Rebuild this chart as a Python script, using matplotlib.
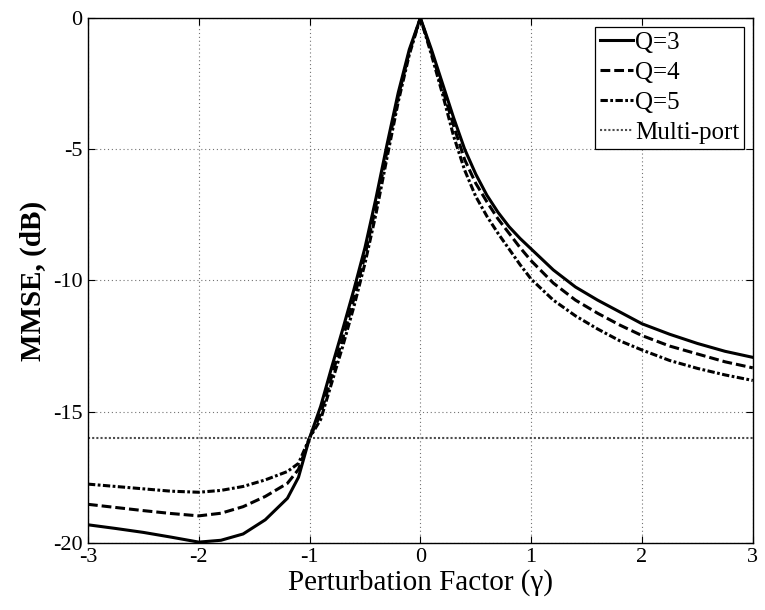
import matplotlib
matplotlib.use("Agg")
import matplotlib.pyplot as plt

plt.rcParams['font.family'] = ['Liberation Serif', 'DejaVu Serif']
plt.rcParams['axes.unicode_minus'] = False

x = [-3, -2.75, -2.5, -2.25, -2, -1.8, -1.6, -1.4, -1.2, -1.1, -1, -0.9, -0.8, -0.7, -0.6, -0.5,
     -0.4, -0.3, -0.2, -0.1, 0, 0.1, 0.2, 0.3, 0.4, 0.5, 0.6, 0.7, 0.8, 0.9, 1.0, 1.2, 1.4, 1.6,
     1.8, 2.0, 2.25, 2.5, 2.75, 3]

q3 = [-19.31, -19.45, -19.6, -19.78, -19.97, -19.9, -19.66, -19.12, -18.3, -17.5, -16.0, -14.8,
      -13.3, -11.85, -10.35, -8.75, -6.85, -4.8, -2.85, -1.2, 0, -1.2, -2.5, -3.8, -5.0, -5.95,
      -6.75, -7.4, -7.95, -8.4, -8.8, -9.6, -10.25, -10.75, -11.2, -11.65, -12.05, -12.4, -12.7,
      -12.93]

q4 = [-18.53, -18.65, -18.77, -18.88, -18.97, -18.87, -18.62, -18.23, -17.73, -17.2, -16.0, -15.1,
      -13.65, -12.2, -10.7, -9.05, -7.15, -5.05, -3.0, -1.3, 0, -1.3, -2.7, -4.1, -5.4, -6.3,
      -7.0, -7.65, -8.2, -8.75, -9.25, -10.1, -10.75, -11.25, -11.7, -12.1, -12.5, -12.8, -13.1,
      -13.33]

q5 = [-17.76, -17.85, -17.94, -18.03, -18.07, -18.0, -17.85, -17.6, -17.28, -16.97, -16.0, -15.3,
      -13.9, -12.5, -11.0, -9.35, -7.45, -5.3, -3.2, -1.4, 0, -1.4, -2.9, -4.5, -5.8, -6.8,
      -7.55, -8.2, -8.8, -9.4, -9.95, -10.75, -11.35, -11.85, -12.3, -12.65, -13.05, -13.35, -13.6,
      -13.81]

multiport_x = [-3, 3]
multiport_y = [-16, -16]

labels = ['Q=3', 'Q=4', 'Q=5', 'Multi-port']
xticks = [-3, -2, -1, 0, 1, 2, 3]
yticks = [-20, -15, -10, -5, 0]

fig = plt.figure(figsize=(7.65, 6.1), dpi=100)
ax = fig.add_axes([0.115, 0.11, 0.869, 0.8605])

ax.plot(x, q3, color='black', lw=2.2, linestyle='-', label=labels[0])
ax.plot(x, q4, color='black', lw=2.2, linestyle=(0, (3.2, 1.3)), label=labels[1])
ax.plot(x, q5, color='black', lw=2.2, linestyle=(0, (2.4, 0.8, 0.9, 0.8)), label=labels[2])
ax.plot(multiport_x, multiport_y, color='0.3', lw=1.5, linestyle=(0, (1, 1)), label=labels[3])

ax.set_xlim(-3, 3)
ax.set_ylim(-20, 0)
ax.set_xticks(xticks)
ax.set_yticks(yticks)
ax.set_xticklabels([str(t) for t in xticks])
ax.set_yticklabels([str(t) for t in yticks])
ax.tick_params(direction='in', top=True, right=True, length=5, width=0.8, labelsize=16)
ax.tick_params(axis='x', pad=4)
ax.tick_params(axis='y', pad=4)
ax.grid(True, color='0.45', linestyle=(0, (1, 2.5)), linewidth=0.8)
for s in ax.spines.values():
    s.set_linewidth(1.0)

ax.set_xlabel('Perturbation Factor (\u03b3)', fontsize=21, labelpad=1)
ax.set_ylabel('MMSE, (dB)', fontsize=21, fontweight='bold', labelpad=4)

leg = ax.legend(loc='upper right', fontsize=18, frameon=True, fancybox=False, framealpha=1,
                edgecolor='black', handlelength=1.3, handletextpad=0.08, borderpad=0.2,
                labelspacing=0.3, borderaxespad=0.35)
leg.get_frame().set_linewidth(0.9)

fig.savefig('out.png', dpi=100)
